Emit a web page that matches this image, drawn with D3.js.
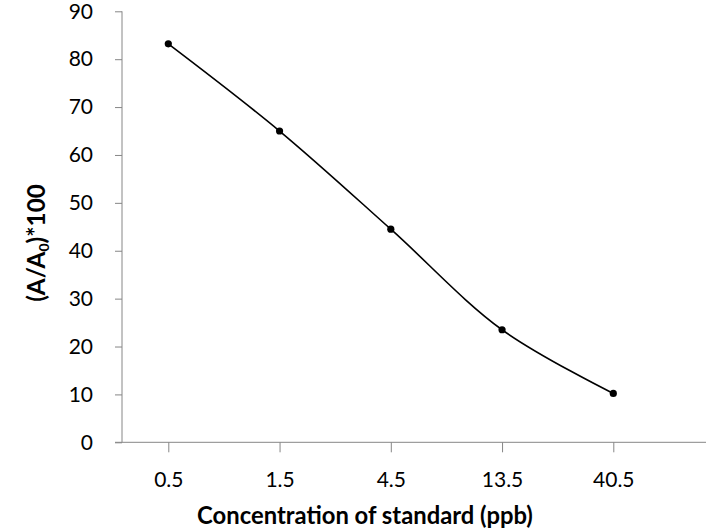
<!DOCTYPE html>
<html><head><meta charset="utf-8">
<script src="https://cdn.jsdelivr.net/npm/d3@7"></script>
<style>body{margin:0;background:#fff}svg{display:block}</style>
</head><body>
<svg id="c" width="707" height="530"></svg>
<script>
const categories = ["0.5","1.5","4.5","13.5","40.5"];
const values = [83.2, 65.0, 44.5, 23.5, 10.2];
const yTicks = [0,10,20,30,40,50,60,70,80,90];

const svg = d3.select("#c");
const font = "Lato, 'Open Sans', 'Noto Sans', sans-serif";
const x = d3.scalePoint().domain(categories).range([168.3, 613.3]);
const y = d3.scaleLinear().domain([0,90]).range([442.3, 11.3]);
const grey = "#868686";

function fit(sel, target) {
  const n = sel.node();
  const fs = parseFloat(sel.attr("font-size"));
  const w = n.getComputedTextLength();
  if (w > 0) sel.attr("font-size", fs * target / w);
}

// y axis
const ya = svg.append("g").attr("transform","translate(122,0)")
  .call(d3.axisLeft(y).tickValues(yTicks).tickSize(7).tickPadding(22));
ya.select(".domain").attr("stroke",grey).attr("d", `M0,${y(0)}V${y(90)}`);
ya.selectAll(".tick line").attr("stroke",grey);
ya.selectAll(".tick text").attr("font-family",font).attr("font-size",21).attr("fill","#000");

// x axis
const xa = svg.append("g").attr("transform",`translate(0,${y(0)})`)
  .call(d3.axisBottom(x).tickSize(10).tickPadding(20));
xa.select(".domain").attr("stroke",grey).attr("d","M115,0H706");
xa.selectAll(".tick line").attr("stroke",grey);
xa.selectAll(".tick text").attr("font-family",font).attr("font-size",21).attr("fill","#000");

// line
const line = d3.line().x((d,i)=>x(categories[i])).y(d=>y(d)).curve(d3.curveCatmullRom);
svg.append("path").datum(values).attr("d",line).attr("fill","none").attr("stroke","#000").attr("stroke-width",1.6);
svg.selectAll("circle.pt").data(values).join("circle").attr("class","pt")
  .attr("cx",(d,i)=>x(categories[i])).attr("cy",d=>y(d)).attr("r",3.6).attr("fill","#000");

// titles
const xt = svg.append("text").attr("x",365).attr("y",524).attr("text-anchor","middle")
  .attr("font-family",font).attr("font-size",21).attr("font-weight","bold").text("Concentration of standard (ppb)");
fit(xt, 336);
const yt = svg.append("text").attr("transform","translate(45,243) rotate(-90)").attr("text-anchor","middle")
  .attr("font-family",font).attr("font-size",21).attr("font-weight","bold");
yt.append("tspan").text("(A/A");
yt.append("tspan").attr("dy",4).attr("font-size",14).text("0");
yt.append("tspan").attr("dy",-4).text(")*100");
fit(yt, 119);
</script>
</body></html>
